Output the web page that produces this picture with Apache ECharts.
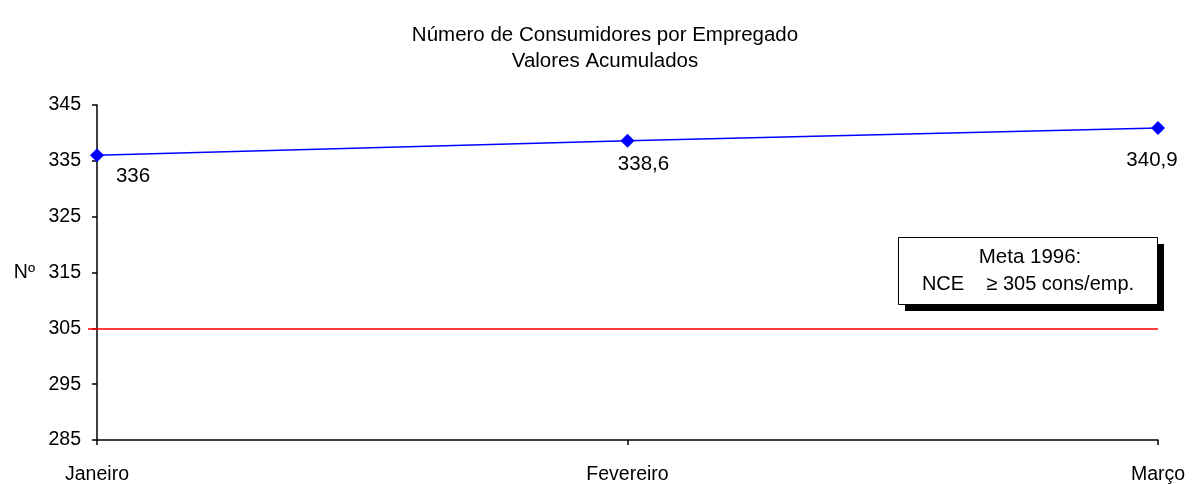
<!DOCTYPE html>
<html>
<head>
<meta charset="utf-8">
<script src="https://cdn.jsdelivr.net/npm/echarts@6/dist/echarts.min.js"></script>
<style>
  html, body { margin: 0; padding: 0; background: #fff; }
  #chart { width: 1193px; height: 484px; }
</style>
</head>
<body>
<div id="chart"></div>
<script>
// Monthly accumulated consumers per employee
const months = ['Janeiro', 'Fevereiro', 'Março'];
const consumersPerEmployee = [336, 338.6, 340.9];
const target = 305;
const yTicks = { min: 285, max: 345, interval: 10 };

// Per-point label nudges (dx, dy) from the marker centre
const labelOffsets = [[36, 21], [16, 24], [-6, 32]];

const fmt = v => String(v).replace('.', ',');
const FONT = '"Liberation Sans", Arial, sans-serif';
const FS = 19.5;
const LABEL_FS = 20.5;
const TITLE_FS = 20.5;

const chart = echarts.init(document.getElementById('chart'), null, { renderer: 'canvas' });

const titleStyle = { fontFamily: FONT, fontSize: TITLE_FS, fontWeight: 'normal', color: '#000' };

const option = {
  animation: false,
  backgroundColor: '#ffffff',
  textStyle: { fontFamily: FONT, color: '#000' },
  title: [
    { text: 'Número de Consumidores por Empregado', left: 600, textAlign: 'center', top: 20,
      textStyle: titleStyle },
    { text: 'Valores Acumulados', left: 600, textAlign: 'center', top: 46,
      textStyle: titleStyle }
  ],
  grid: { left: 97, right: 35, top: 105, bottom: 44, containLabel: false, outerBoundsMode: 'none' },
  xAxis: {
    type: 'category',
    data: months,
    boundaryGap: false,
    axisLine: { lineStyle: { color: '#000', width: 1.5 } },
    axisTick: { show: true, alignWithLabel: true, length: 5, lineStyle: { color: '#000', width: 1.5 } },
    axisLabel: { color: '#000', fontSize: FS, fontFamily: FONT, margin: 25 },
    splitLine: { show: false }
  },
  yAxis: {
    type: 'value',
    min: yTicks.min, max: yTicks.max, interval: yTicks.interval,
    name: 'Nº', nameLocation: 'middle', nameRotate: 0, nameGap: 62,
    nameTextStyle: { color: '#000', fontSize: FS, fontFamily: FONT },
    axisLine: { show: true, lineStyle: { color: '#000', width: 1.5 } },
    axisTick: { show: true, length: 5, lineStyle: { color: '#000', width: 1.5 } },
    axisLabel: { color: '#000', fontSize: FS, fontFamily: FONT, margin: 16 },
    splitLine: { show: false }
  },
  series: [{
    type: 'line',
    data: consumersPerEmployee.map((v, i) => ({
      value: v,
      label: { offset: labelOffsets[i] }
    })),
    symbol: 'diamond',
    symbolSize: 14,
    z: 3,
    lineStyle: { color: '#0000ff', width: 1.5 },
    itemStyle: { color: '#0000ff' },
    label: {
      show: true,
      position: 'inside',
      color: '#000',
      fontSize: LABEL_FS,
      fontFamily: FONT,
      formatter: p => fmt(p.value)
    }
  }, {
    // Target line for the year
    type: 'line',
    data: [],
    silent: true,
    z: 2,
    markLine: {
      silent: true,
      symbol: 'none',
      label: { show: false },
      lineStyle: { color: '#ff0000', width: 1.5, type: 'solid' },
      data: [{ yAxis: target }]
    }
  }],
  graphic: [
    { type: 'rect', x: 905, y: 244, shape: { width: 259, height: 67 },
      style: { fill: '#000' } },
    { type: 'rect', x: 898.5, y: 237.5, shape: { width: 259, height: 67 },
      style: { fill: '#fff', stroke: '#000', lineWidth: 1 } },
    { type: 'text', x: 1030, y: 257,
      style: { text: 'Meta 1996:', fill: '#000', font: '20.5px ' + FONT,
               align: 'center', verticalAlign: 'middle' } },
    { type: 'text', x: 1028, y: 284,
      style: { text: 'NCE    ≥ 305 cons/emp.', fill: '#000', font: '20px ' + FONT,
               align: 'center', verticalAlign: 'middle' } }
  ]
};

chart.setOption(option);

// The target line starts a little left of the value axis, as in the source sheet
const yPx = chart.convertToPixel({ yAxisIndex: 0 }, target);
const xEnd = chart.convertToPixel({ xAxisIndex: 0 }, months[months.length - 1]);
chart.setOption({
  series: [{}, {
    markLine: { data: [[{ x: 88, y: yPx }, { x: xEnd, y: yPx }]] }
  }]
});
</script>
</body>
</html>
